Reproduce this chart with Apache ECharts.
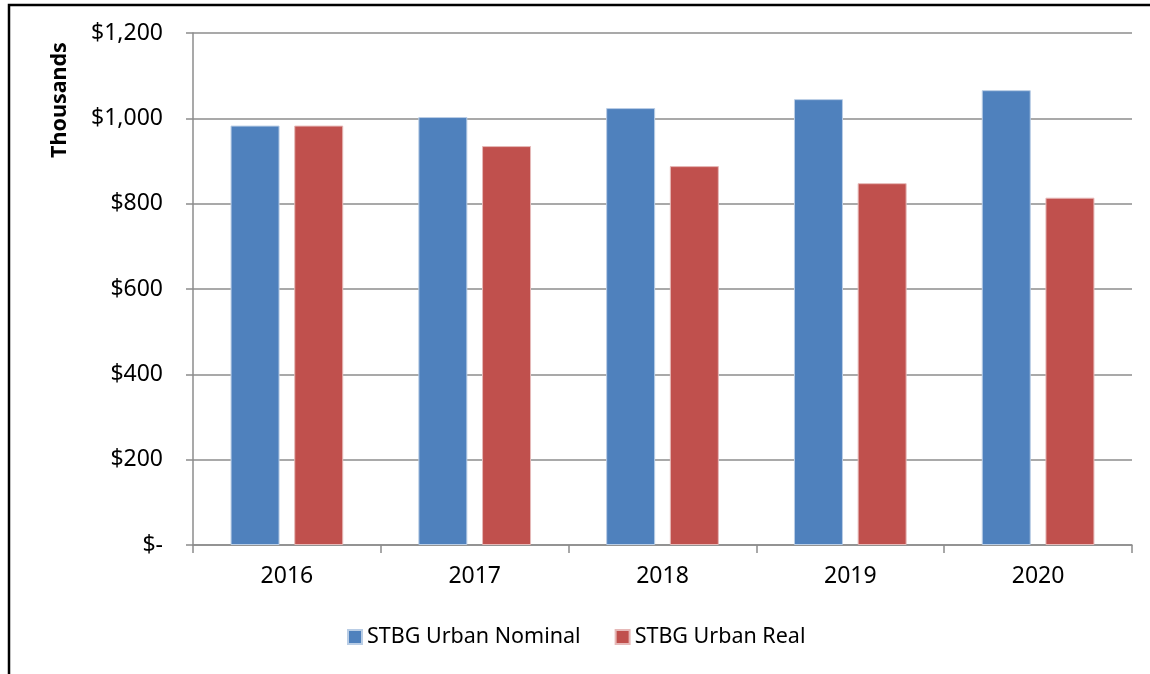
<!DOCTYPE html>
<html>
<head>
<meta charset="utf-8">
<title>STBG Urban Nominal vs Real</title>
<script src="https://cdn.jsdelivr.net/npm/echarts@6/dist/echarts.min.js"></script>
<style>
  html, body { margin: 0; padding: 0; background: #fff; }
  #chart { width: 1150px; height: 674px; }
</style>
</head>
<body>
<div id="chart"></div>
<script>
// Fiscal years on the category axis
const years = ['2016', '2017', '2018', '2019', '2020'];
// Apportionments in thousands of dollars
const nominal = [983, 1003, 1024, 1045, 1066];
const real = [983, 935, 888, 848, 814];
// Value axis range and step
const yMin = 0;
const yMax = 1200;
const yStep = 200;

const FONT = '"Noto Sans", "Open Sans", sans-serif';
const GRID_GRAY = '#8c8c8c';

function dollarLabel(v) {
  if (v === 0) return '$-';
  return '$' + v.toLocaleString('en-US');
}

const chart = echarts.init(document.getElementById('chart'), null, { renderer: 'canvas' });

chart.setOption({
  backgroundColor: '#ffffff',
  animation: false,
  textStyle: { fontFamily: FONT, color: '#000' },
  grid: { left: 193, right: 18, top: 33, bottom: 129, containLabel: false },
  graphic: [
    {
      type: 'rect',
      shape: { x: 9, y: 5, width: 1300, height: 1000 },
      style: { fill: 'none', stroke: '#000', lineWidth: 2.5 },
      silent: true
    },
    {
      type: 'text',
      x: 60,
      y: 100,
      rotation: Math.PI / 2,
      style: {
        text: 'Thousands',
        font: 'bold 21.5px ' + FONT,
        fill: '#000',
        align: 'center',
        verticalAlign: 'middle'
      },
      silent: true
    }
  ],
  legend: {
    data: ['STBG Urban Nominal', 'STBG Urban Real'],
    left: 342,
    top: 621,
    itemWidth: 14,
    itemHeight: 14,
    itemGap: 34,
    icon: 'rect',
    textStyle: { fontFamily: FONT, fontSize: 21.5, color: '#000' }
  },
  xAxis: {
    type: 'category',
    data: years,
    axisLine: { show: true, lineStyle: { color: GRID_GRAY, width: 1.5 } },
    axisTick: { show: true, alignWithLabel: false, length: 8, lineStyle: { color: GRID_GRAY, width: 1.5 } },
    axisLabel: { fontFamily: FONT, fontSize: 23, color: '#000', margin: 20 },
    splitLine: { show: false }
  },
  yAxis: {
    type: 'value',
    min: yMin,
    max: yMax,
    interval: yStep,
    axisLine: { show: true, lineStyle: { color: GRID_GRAY, width: 1.5 } },
    axisTick: { show: true, inside: false, length: 7, lineStyle: { color: GRID_GRAY, width: 1.5 } },
    axisLabel: { fontFamily: FONT, fontSize: 23, color: '#000', margin: 30, formatter: dollarLabel },
    splitLine: { show: true, lineStyle: { color: GRID_GRAY, width: 1.5 } }
  },
  series: [
    {
      name: 'STBG Urban Nominal',
      type: 'bar',
      data: nominal,
      barGap: '30%',
      barCategoryGap: '40%',
      itemStyle: { color: '#4F81BD', borderColor: '#b9cde5', borderWidth: 1 }
    },
    {
      name: 'STBG Urban Real',
      type: 'bar',
      data: real,
      barGap: '30%',
      barCategoryGap: '40%',
      itemStyle: { color: '#C0504D', borderColor: '#e6b9b8', borderWidth: 1 }
    }
  ]
});
</script>
</body>
</html>
